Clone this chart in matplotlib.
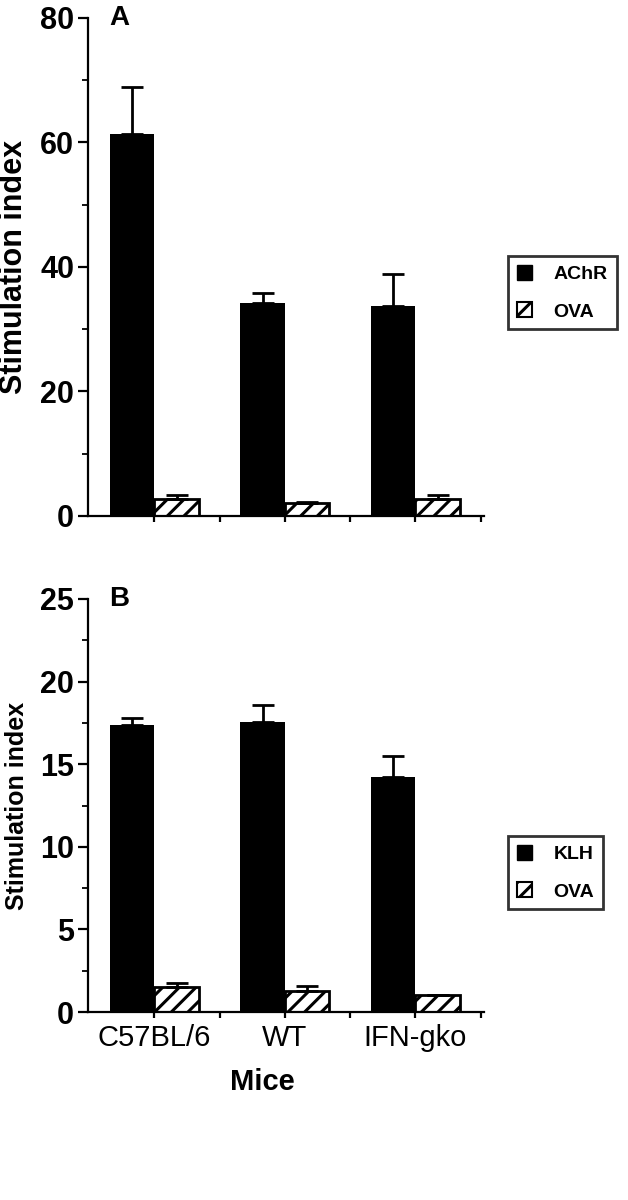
import numpy as np
import matplotlib
matplotlib.use("Agg")
import matplotlib.pyplot as plt
from matplotlib.patches import Patch
from matplotlib.ticker import MultipleLocator

groups = ["C57BL/6", "WT", "IFN-gko"]

# panel A
achr = [61.4, 34.2, 33.8]
achr_err = [7.5, 1.7, 5.1]
ova_a = [2.7, 2.1, 2.8]
ova_a_err = [0.7, 0.2, 0.5]

# panel B
klh = [17.4, 17.55, 14.2]
klh_err = [0.4, 1.05, 1.3]
ova_b = [1.5, 1.3, 1.0]
ova_b_err = [0.25, 0.3, 0.0]

plt.rcParams['font.family'] = ['Liberation Sans', 'DejaVu Sans']
plt.rcParams['hatch.linewidth'] = 2.2

fig = plt.figure(figsize=(6.28, 12), dpi=100)
ax_a = fig.add_axes([88/628, 1-516/1200, 396/628, 498/1200])
ax_b = fig.add_axes([88/628, 1-1012/1200, 396/628, 413/1200])

x = np.arange(len(groups))
w = 0.34


def draw_panel(ax, main, main_err, ova, ova_err, ymax, major, main_name, letter, lab_size):
    ax.bar(x - w/2, main, w, color='black', edgecolor='black', linewidth=0)
    ax.errorbar(x - w/2, main, yerr=[np.zeros(3), main_err], fmt='none',
                ecolor='black', elinewidth=2, capsize=8, capthick=2)
    ax.bar(x + w/2, ova, w, color='white', edgecolor='black', linewidth=2, hatch='//')
    ax.errorbar(x + w/2, ova, yerr=[np.zeros(3), ova_err], fmt='none',
                ecolor='black', elinewidth=2, capsize=8, capthick=2)
    ax.set_xlim(-0.508, 2.525)
    ax.set_ylim(0, ymax)
    for s in ['top', 'right']:
        ax.spines[s].set_visible(False)
    for s in ['left', 'bottom']:
        ax.spines[s].set_linewidth(1.6)
    yt = np.arange(0, ymax + 0.01, major)
    ax.set_yticks(yt, [f"{v:g}" for v in yt], fontsize=22, fontweight='bold')
    ax.yaxis.set_minor_locator(MultipleLocator(major / 2))
    ax.set_xticks(np.arange(0, 3, 0.5))
    ax.tick_params(axis='y', which='major', length=7, width=1.6, pad=3)
    ax.tick_params(axis='y', which='minor', length=4, width=1.3)
    ax.tick_params(axis='x', length=4, width=1.6)
    ax.set_ylabel("Stimulation index", fontsize=lab_size, fontweight='bold')
    ax.yaxis.set_label_coords(-0.15, 0.5)
    ax.text(0.078, 1.0, letter, transform=ax.transAxes, fontsize=20,
            fontweight='bold', ha='center', va='center')
    handles = [Patch(facecolor='black', edgecolor='black', label=main_name),
               Patch(facecolor='white', edgecolor='black', hatch='//', linewidth=1.5, label='OVA')]
    return handles


h_a = draw_panel(ax_a, achr, achr_err, ova_a, ova_a_err, 80, 20, "AChR", "A", 22)
ax_a.set_xticklabels([])
h_b = draw_panel(ax_b, klh, klh_err, ova_b, ova_b_err, 25, 5, "KLH", "B", 18)
ax_b.set_xticks([0, 1, 2], groups, fontsize=21)
ax_b.set_xticks([0.5, 1.5, 2.5], minor=True)
ax_b.tick_params(axis='x', which='minor', length=4, width=1.6)
ax_b.tick_params(axis='x', which='major', pad=5)
ax_b.set_xlabel("Mice", fontsize=21, fontweight='bold')
ax_b.xaxis.set_label_coords(0.44, -0.135)

for h, top in [(h_a, 256), (h_b, 836)]:
    leg = fig.legend(handles=h, loc='upper left', bbox_to_anchor=(508/628, 1-top/1200),
                     prop={'family': 'Liberation Sans', 'weight': 'bold', 'size': 14},
                     frameon=True, fancybox=False, handlelength=0.8, handleheight=0.8,
                     handletextpad=1.1, labelspacing=1.0, borderpad=0.45, borderaxespad=0)
    leg.get_frame().set_edgecolor('black')
    leg.get_frame().set_linewidth(2)

fig.savefig("out.png", dpi=100)
